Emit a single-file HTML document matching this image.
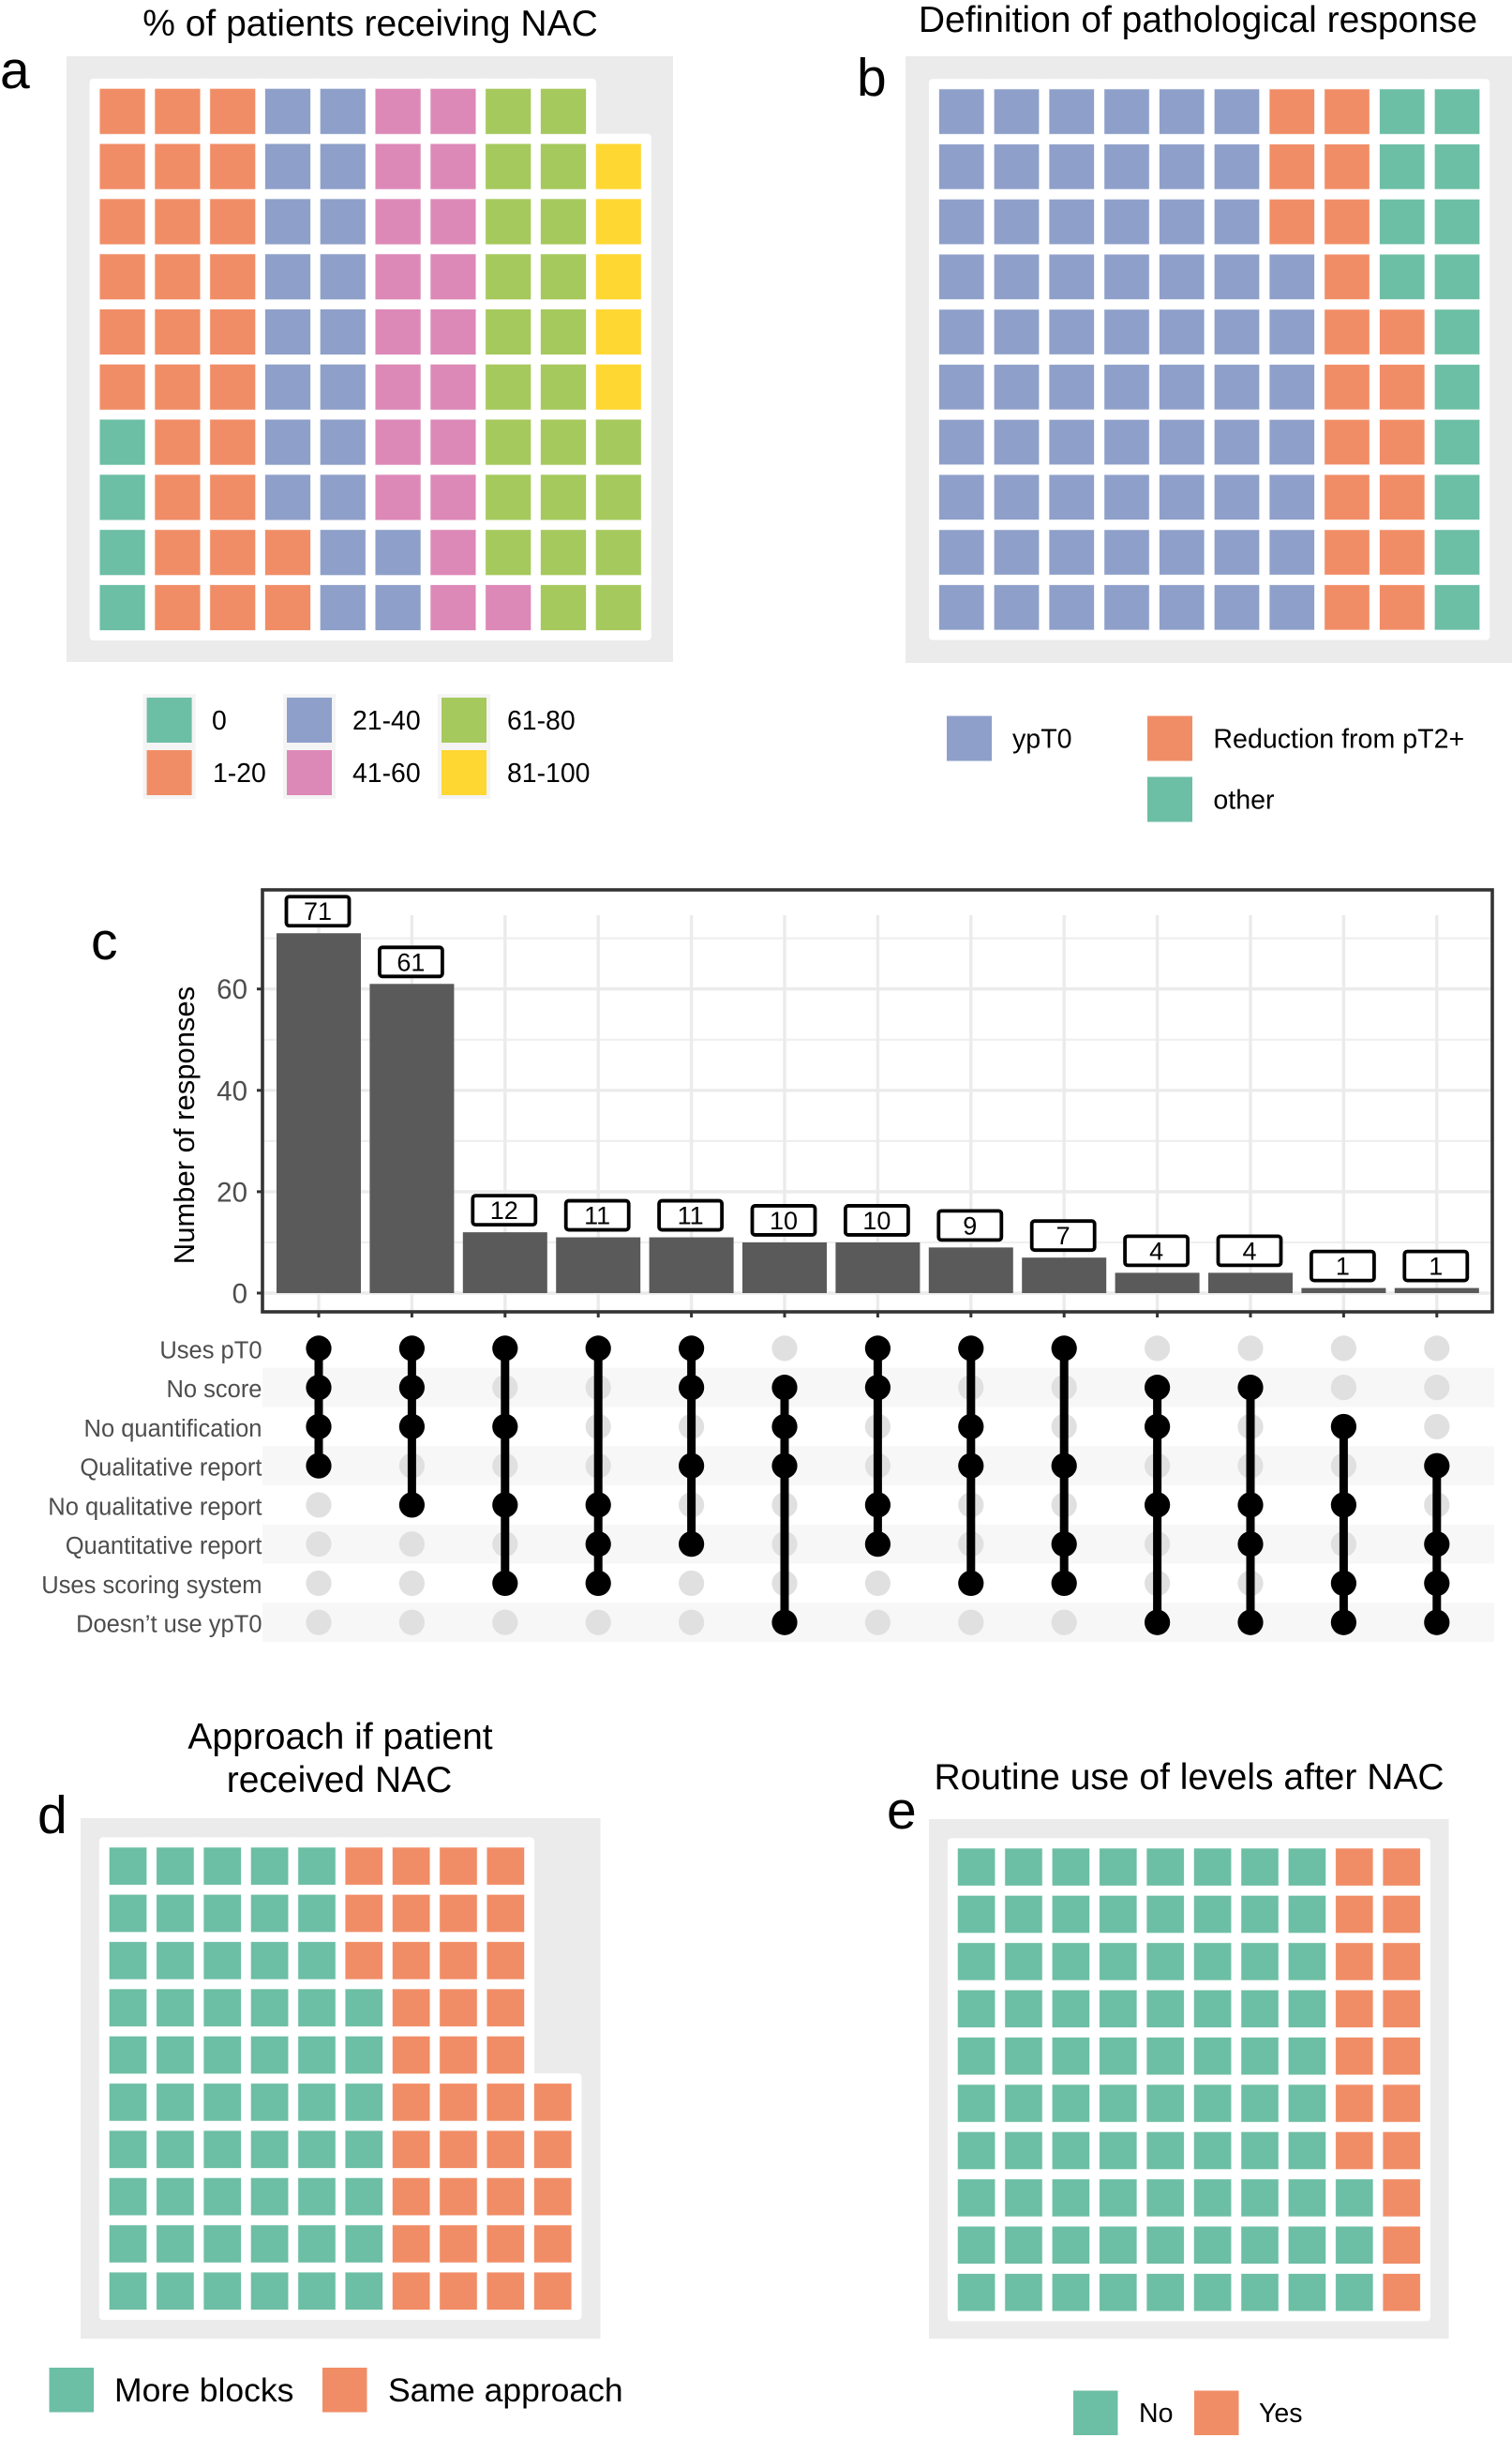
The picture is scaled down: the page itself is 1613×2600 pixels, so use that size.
<!DOCTYPE html>
<html lang="en">
<head>
<meta charset="utf-8">
<title>NAC survey figure</title>
<style>
html,body{margin:0;padding:0;background:#fff;}
svg{display:block;font-family:"Liberation Sans",sans-serif;}
</style>
</head>
<body>
<svg id="figure" xmlns="http://www.w3.org/2000/svg" width="1613" height="2600" viewBox="0 0 1613 2600">
  <rect x="0" y="0" width="1613" height="2600" fill="#ffffff"/>

  <text x="0" y="94" font-size="57">a</text>
  <text x="395" y="38" font-size="39" text-anchor="middle">% of patients receiving NAC</text>

  <text x="914" y="102" font-size="57">b</text>
  <text x="1278" y="34" font-size="39" text-anchor="middle">Definition of pathological response</text>

  <text x="97" y="1023" font-size="57">c</text>
  <text transform="translate(207,1200) rotate(-90)" font-size="31" text-anchor="middle">Number of responses</text>

  <text x="40" y="1955" font-size="57">d</text>
  <text x="363" y="1865" font-size="39" text-anchor="middle">Approach if patient</text>
  <text x="362" y="1911" font-size="39" text-anchor="middle">received NAC</text>

  <text x="946" y="1950" font-size="57">e</text>
  <text x="1268.5" y="1908" font-size="39" text-anchor="middle">Routine use of levels after NAC</text>

  <g id="waffles"></g>
  <g id="upset"></g>
</svg>

<script>
// Waffle data: squares per category, filled column by column from the bottom
var nacCategories = ['0', '1-20', '21-40', '41-60', '61-80', '81-100'];
var nacCounts = [4, 28, 20, 19, 23, 5];
var responseCategories = ['ypT0', 'Reduction from pT2+', 'other'];
var responseCounts = [67, 19, 14];
var approachCategories = ['More blocks', 'Same approach'];
var approachCounts = [57, 38];
var levelsCategories = ['No', 'Yes'];
var levelsCounts = [83, 17];

// UpSet data
var setLabels = ['Uses pT0', 'No score', 'No quantification', 'Qualitative report', 'No qualitative report', 'Quantitative report', 'Uses scoring system', 'Doesn\u2019t use ypT0'];
var barCounts = [71, 61, 12, 11, 11, 10, 10, 9, 7, 4, 4, 1, 1];
var memberships = [
  [0, 1, 2, 3], [0, 1, 2, 4], [0, 2, 4, 6], [0, 4, 5, 6], [0, 1, 3, 5],
  [1, 2, 3, 7], [0, 1, 4, 5], [0, 2, 3, 6], [0, 3, 5, 6], [1, 2, 4, 7],
  [1, 4, 5, 7], [2, 4, 6, 7], [3, 5, 6, 7]
];
var yTickValues = [0, 20, 40, 60];
var yMinorValues = [10, 30, 50, 70];

var GREEN = '#6cbea4', ORANGE = '#f18d66', BLUE = '#8e9fc9', PINK = '#dd89b7', LIME = '#a6c95d', YELLOW = '#ffd733';
var SVGNS = 'http://www.w3.org/2000/svg';

function el(tag, attrs, parent) {
  var n = document.createElementNS(SVGNS, tag);
  for (var k in attrs) { n.setAttribute(k, attrs[k]); }
  parent.appendChild(n);
  return n;
}
function slug(s) {
  return String(s).toLowerCase().replace(/[^a-z0-9]+/g, '-').replace(/^-|-$/g, '');
}

function drawWaffle(prefix, box, cats, counts, colors) {
  var root = document.getElementById('waffles');
  var g = el('g', {}, root);
  
  
  var bg = el('rect', {x: box.px, y: box.py, width: box.pw, height: box.ph, fill: '#ebebeb'}, g);
  
  

  var cells = [];
  var idx = 0;
  for (var c = 0; c < cats.length; c++) {
    for (var i = 0; i < counts[c]; i++) {
      var col = Math.floor(idx / 10);
      var row = 9 - (idx % 10);
      cells.push({col: col, row: row, cat: c});
      idx++;
    }
  }
  var pad = (box.pad || 11);
  cells.forEach(function (d) {
    var halo = el('rect', {
      x: box.x0 + d.col * box.pitch - pad,
      y: box.y0 + d.row * box.pitch - pad,
      width: box.size + 2 * pad,
      height: box.size + 2 * pad,
      rx: 4, fill: '#ffffff'
    }, g);
    
    
  });
  cells.forEach(function (d) {
    var r = el('rect', {
      x: box.x0 + d.col * box.pitch,
      y: box.y0 + d.row * box.pitch,
      width: box.size,
      height: box.size,
      fill: colors[d.cat],
      stroke: colors[d.cat],
      'stroke-opacity': 0.25,
      'stroke-width': 1
    }, g);
    
    
  });
}

function drawLegendEntry(prefix, label, color, sx, sy, size, tx, fontSize, keyBg) {
  var root = document.getElementById('waffles');
  var g = el('g', {}, root);
  
  
  if (keyBg) {
    var k = el('rect', {x: sx - 4, y: sy - 4, width: size + 8, height: size + 8, fill: '#f4f4f4'}, g);
    
    
  }
  var s = el('rect', {x: sx, y: sy, width: size, height: size, fill: color}, g);
  
  
  var t = el('text', {x: tx, y: sy + size / 2 + fontSize * 0.35, 'font-size': fontSize, fill: '#000'}, g);
  
  
  t.textContent = label;
}

var nacColors = [GREEN, ORANGE, BLUE, PINK, LIME, YELLOW];
var responseColors = [BLUE, ORANGE, GREEN];
var twoColors = [GREEN, ORANGE];

drawWaffle('panel-a', {px: 71, py: 60, pw: 647, ph: 646, x0: 106.6, y0: 94.8, size: 48, pitch: 58.8}, nacCategories, nacCounts, nacColors);
drawWaffle('panel-b', {px: 966, py: 60, pw: 647, ph: 647, x0: 1002, y0: 95.3, size: 47.5, pitch: 58.75}, responseCategories, responseCounts, responseColors);
drawWaffle('panel-d', {px: 86, py: 1939, pw: 554.5, ph: 555, x0: 116.8, y0: 1970.4, size: 39.5, pitch: 50.35}, approachCategories, approachCounts, twoColors);
drawWaffle('panel-e', {px: 991, py: 1940, pw: 554.5, ph: 554, x0: 1021.9, y0: 1971.4, size: 39.4, pitch: 50.4}, levelsCategories, levelsCounts, twoColors);

drawLegendEntry('panel-a', nacCategories[0], nacColors[0], 156.6, 744, 48, 226, 28.4, true);
drawLegendEntry('panel-a', nacCategories[1], nacColors[1], 156.6, 800, 48, 227, 28.4, true);
drawLegendEntry('panel-a', nacCategories[2], nacColors[2], 306, 744, 48, 376, 28.4, true);
drawLegendEntry('panel-a', nacCategories[3], nacColors[3], 306, 800, 48, 376, 28.4, true);
drawLegendEntry('panel-a', nacCategories[4], nacColors[4], 471, 744, 48, 541, 28.4, true);
drawLegendEntry('panel-a', nacCategories[5], nacColors[5], 471, 800, 48, 541, 28.4, true);

drawLegendEntry('panel-b', responseCategories[0], responseColors[0], 1010, 763.5, 48, 1080, 28.6, false);
drawLegendEntry('panel-b', responseCategories[1], responseColors[1], 1224, 763.5, 48, 1294.4, 28.6, false);
drawLegendEntry('panel-b', responseCategories[2], responseColors[2], 1224, 828.5, 48, 1294.4, 28.6, false);

drawLegendEntry('panel-d', approachCategories[0], twoColors[0], 52.5, 2525, 47.5, 122, 35.5, false);
drawLegendEntry('panel-d', approachCategories[1], twoColors[1], 344, 2525, 47.5, 414, 35.5, false);

drawLegendEntry('panel-e', levelsCategories[0], twoColors[0], 1145, 2549.5, 47.5, 1215, 28.5, false);
drawLegendEntry('panel-e', levelsCategories[1], twoColors[1], 1274, 2549.5, 47.5, 1343, 28.5, false);

// UpSet axis functions
function xBar(i) { return 340 + 99.4 * i; }
function yBar(v) { return 1379 - 5.405 * v; }
function yRow(r) { return 1437.9 + 41.76 * r; }

(function drawUpset() {
  var root = document.getElementById('upset');
  var left = 280, right = 1592, top = 949, bottom = 1399;

  yMinorValues.forEach(function (v) {
    var l = el('line', {x1: left, x2: right, y1: yBar(v), y2: yBar(v), stroke: '#efefef', 'stroke-width': 2.2}, root);
    
    
  });
  yTickValues.forEach(function (v) {
    var l = el('line', {x1: left, x2: right, y1: yBar(v), y2: yBar(v), stroke: '#ebebeb', 'stroke-width': 3.4}, root);
    
    
  });
  barCounts.forEach(function (v, i) {
    var l = el('line', {x1: xBar(i), x2: xBar(i), y1: 976, y2: bottom, stroke: '#ebebeb', 'stroke-width': 3.4}, root);
    
    
  });

  barCounts.forEach(function (v, i) {
    var r = el('rect', {x: xBar(i) - 45, y: yBar(v), width: 90, height: yBar(0) - yBar(v), fill: '#5a5a5a'}, root);
    
    

    var b = el('rect', {x: xBar(i) - 34.5, y: yBar(v) - 39, width: 67, height: 31, rx: 3, fill: '#ffffff', stroke: '#000000', 'stroke-width': 3.8}, root);
    
    

    var t = el('text', {x: xBar(i) - 1, y: yBar(v) - 14, 'font-size': 27, 'text-anchor': 'middle', fill: '#000'}, root);
    
    
    t.textContent = v;

    var tick = el('line', {x1: xBar(i), x2: xBar(i), y1: bottom, y2: bottom + 6, stroke: '#333333', 'stroke-width': 3}, root);
    
    
  });

  var frame = el('rect', {x: left, y: top, width: right - left, height: bottom - top, fill: 'none', stroke: '#333333', 'stroke-width': 3.6}, root);
  
  

  yTickValues.forEach(function (v) {
    var tick = el('line', {x1: left - 6, x2: left, y1: yBar(v), y2: yBar(v), stroke: '#333333', 'stroke-width': 3}, root);
    
    
    var t = el('text', {x: 264, y: yBar(v) + 10.5, 'font-size': 29.5, 'text-anchor': 'end', fill: '#4d4d4d'}, root);
    
    
    t.textContent = v;
  });

  setLabels.forEach(function (label, r) {
    if (r % 2 === 1) {
      var s = el('rect', {x: left, y: yRow(r) - 20.9, width: right - left + 2, height: 41.8, fill: '#f7f7f7'}, root);
      
      
    }
    var t = el('text', {x: 279.5, y: yRow(r) + 10.5, 'font-size': 25.5, 'text-anchor': 'end', fill: '#4d4d4d'}, root);
    
    
    t.textContent = label;
  });

  memberships.forEach(function (members, i) {
    setLabels.forEach(function (label, r) {
      var d = el('circle', {cx: xBar(i), cy: yRow(r), r: 13.6, fill: '#e0e0e0'}, root);
      
      
    });
  });
  memberships.forEach(function (members, i) {
    var lo = Math.min.apply(null, members);
    var hi = Math.max.apply(null, members);
    var l = el('line', {x1: xBar(i), x2: xBar(i), y1: yRow(lo), y2: yRow(hi), stroke: '#000000', 'stroke-width': 9}, root);
    
    
    members.forEach(function (r) {
      var d = el('circle', {cx: xBar(i), cy: yRow(r), r: 13.6, fill: '#000000'}, root);
      
      
    });
  });
})();
</script>
</body>
</html>
